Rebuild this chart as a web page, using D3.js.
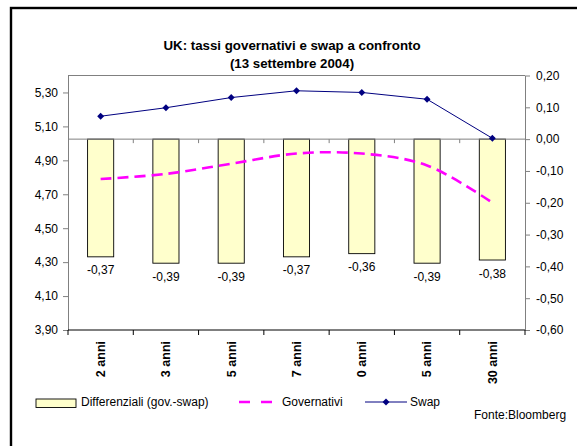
<!DOCTYPE html>
<html>
<head>
<meta charset="utf-8">
<script src="https://cdn.jsdelivr.net/npm/d3@7"></script>
<style>
  html, body { margin: 0; padding: 0; background: #fff; }
  svg { display: block; font-family: "Liberation Sans", Arial, sans-serif; }
</style>
</head>
<body>
<svg id="chart" width="577" height="446"></svg>
<script>
// Maturities on the category axis
const categories = ["2 anni", "3 anni", "5 anni", "7 anni", "0 anni", "5 anni ", "30 anni"];
// Swap rates and government yields (left axis, %)
const swap = [5.16, 5.21, 5.27, 5.31, 5.30, 5.26, 5.03];
const governativi = [4.79, 4.82, 4.88, 4.94, 4.94, 4.87, 4.65];
// Spread gov. - swap (right axis)
const differenziali = [-0.37, -0.39, -0.39, -0.37, -0.36, -0.39, -0.38];
// Axis ticks
const leftTicks = [3.9, 4.1, 4.3, 4.5, 4.7, 4.9, 5.1, 5.3];
const rightTicks = [-0.6, -0.5, -0.4, -0.3, -0.2, -0.1, 0.0, 0.1, 0.2];

const svg = d3.select("#chart");
const it = d3.formatLocale({ decimal: ",", thousands: ".", grouping: [3], currency: ["", "€"], minus: "-" });
const fmt = it.format(".2f");

const plot = { left: 68, right: 525, top: 75.5, bottom: 330 };

const x = d3.scaleBand().domain(d3.range(categories.length)).range([plot.left, plot.right]);
const yL = d3.scaleLinear().domain([3.9, 5.4]).range([plot.bottom, plot.top]);
const yR = d3.scaleLinear().domain([-0.6, 0.2]).range([plot.bottom, plot.top]);

// Outer frame
svg.append("rect")
  .attr("x", 11).attr("y", 8).attr("width", 700).attr("height", 600)
  .attr("fill", "none").attr("stroke", "#000").attr("stroke-width", 2.4);

// Title
const title = svg.append("text").attr("text-anchor", "middle")
  .attr("font-weight", "bold").attr("font-size", 13.3).attr("fill", "#000");
title.append("tspan").attr("x", 292).attr("y", 50).text("UK: tassi governativi e swap a confronto");
title.append("tspan").attr("x", 292).attr("y", 68).text("(13 settembre 2004)");

// Plot area top border
svg.append("line")
  .attr("x1", plot.left).attr("x2", plot.right)
  .attr("y1", plot.top).attr("y2", plot.top)
  .attr("stroke", "#808080").attr("stroke-width", 1);

// Bars for the spread, hanging from zero on the right scale
const bw = x.bandwidth() / 2.5;
svg.append("g").selectAll("rect").data(differenziali).join("rect")
  .attr("x", (d, i) => x(i) + x.bandwidth() / 2 - bw / 2)
  .attr("y", d => yR(Math.max(0, d)))
  .attr("width", bw)
  .attr("height", d => Math.abs(yR(d) - yR(0)))
  .attr("fill", "#FFFFCC").attr("stroke", "#000").attr("stroke-width", 0.9);

// Value labels under the bars
svg.append("g").selectAll("text").data(differenziali).join("text")
  .attr("x", (d, i) => x(i) + x.bandwidth() / 2)
  .attr("y", d => yR(d) + 17.5)
  .attr("text-anchor", "middle").attr("font-size", 12).attr("fill", "#000")
  .text(d => fmt(d));

// Secondary category axis along zero
const boundaries = d3.range(categories.length + 1).map(i => i < categories.length ? x(i) : plot.right);
const zeroG = svg.append("g").attr("stroke", "#808080").attr("stroke-width", 1);
zeroG.append("line")
  .attr("x1", plot.left).attr("x2", plot.right)
  .attr("y1", yR(0)).attr("y2", yR(0));
zeroG.selectAll(".zt").data(boundaries.slice(1, -1)).join("line")
  .attr("x1", d => d).attr("x2", d => d)
  .attr("y1", yR(0)).attr("y2", yR(0) + 4);

// Government yields: dashed smoothed line
svg.append("path")
  .datum(governativi)
  .attr("d", d3.line().x((d, i) => x(i) + x.bandwidth() / 2).y(d => yL(d)).curve(d3.curveCatmullRom.alpha(0.5)))
  .attr("fill", "none").attr("stroke", "#FF00FF").attr("stroke-width", 2.6)
  .attr("stroke-dasharray", "11,6");

// Swap rates: line with diamond markers
svg.append("path")
  .datum(swap)
  .attr("d", d3.line().x((d, i) => x(i) + x.bandwidth() / 2).y(d => yL(d)))
  .attr("fill", "none").attr("stroke", "#000080").attr("stroke-width", 1);
const diamond = d3.symbol().type(d3.symbolSquare).size(24);
svg.append("g").selectAll("path").data(swap).join("path")
  .attr("d", diamond)
  .attr("transform", (d, i) => `translate(${x(i) + x.bandwidth() / 2},${yL(d)}) rotate(45)`)
  .attr("fill", "#000080");

// Left axis
const gL = svg.append("g").attr("transform", `translate(${plot.left},0)`)
  .call(d3.axisLeft(yL).tickValues(leftTicks).tickFormat(fmt).tickSize(5).tickSizeOuter(0).tickPadding(5));
// Right axis
const gR = svg.append("g").attr("transform", `translate(${plot.right},0)`)
  .call(d3.axisRight(yR).tickValues(rightTicks).tickFormat(fmt).tickSize(5).tickSizeOuter(0).tickPadding(6));
[gL, gR].forEach(g => {
  g.select(".domain").attr("stroke", "#808080");
  g.selectAll(".tick line").attr("stroke", "#808080");
  g.selectAll(".tick text").attr("font-size", 12).attr("fill", "#000")
    .attr("font-family", "'Liberation Sans', Arial, sans-serif");
});

// Bottom category axis
const gB = svg.append("g");
gB.append("line")
  .attr("x1", plot.left).attr("x2", plot.right)
  .attr("y1", plot.bottom).attr("y2", plot.bottom)
  .attr("stroke", "#000").attr("stroke-width", 1);
gB.selectAll(".bt").data(boundaries).join("line")
  .attr("x1", d => d).attr("x2", d => d)
  .attr("y1", plot.bottom).attr("y2", plot.bottom + 5)
  .attr("stroke", "#000");
gB.selectAll("text").data(categories).join("text")
  .attr("transform", (d, i) => `translate(${x(i) + x.bandwidth() / 2 + 4.3},341) rotate(-90)`)
  .attr("text-anchor", "end").attr("font-weight", "bold").attr("font-size", 12.5).attr("fill", "#000")
  .text(d => d.trim());

// Legend
const lg = svg.append("g").attr("font-size", 12).attr("fill", "#000");
lg.append("rect").attr("x", 36).attr("y", 399).attr("width", 40).attr("height", 8.5)
  .attr("fill", "#FFFFCC").attr("stroke", "#000").attr("stroke-width", 0.9);
lg.append("text").attr("x", 81).attr("y", 406).text("Differenziali (gov.-swap)");
lg.append("line").attr("x1", 239).attr("x2", 274).attr("y1", 402).attr("y2", 402)
  .attr("stroke", "#FF00FF").attr("stroke-width", 2.6).attr("stroke-dasharray", "11,11");
lg.append("text").attr("x", 282).attr("y", 406).text("Governativi");
lg.append("line").attr("x1", 365).attr("x2", 407).attr("y1", 402).attr("y2", 402)
  .attr("stroke", "#000080").attr("stroke-width", 1);
lg.append("path").attr("d", diamond).attr("transform", "translate(386,402) rotate(45)").attr("fill", "#000080");
lg.append("text").attr("x", 410).attr("y", 406).text("Swap");
svg.append("text").attr("x", 474).attr("y", 419).attr("font-size", 12).attr("fill", "#000").text("Fonte:Bloomberg");
</script>
</body>
</html>
